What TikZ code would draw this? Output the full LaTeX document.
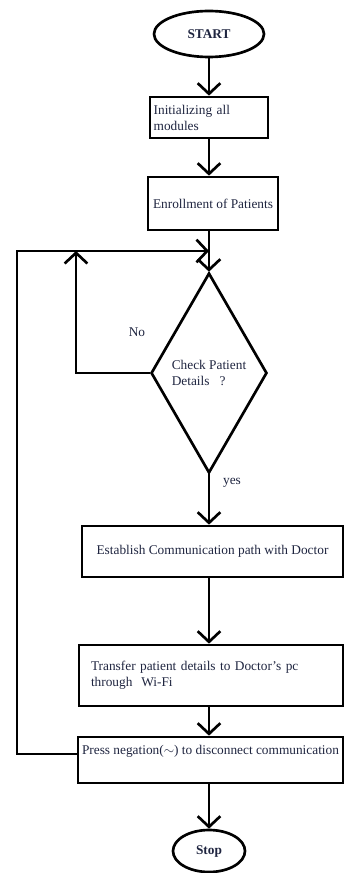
\documentclass[tikz,border=0pt]{standalone}
\usepackage{fontspec}
\setmainfont{Liberation Serif}
\usepackage{xcolor}
\usepackage{tikz}
\usetikzlibrary{calc,arrows.meta,shapes.geometric}
\definecolor{ink}{HTML}{000000}
\definecolor{txt}{HTML}{1F2540}
\tikzset{
  x=0.75pt, y=-0.75pt,
  box/.style={draw=ink, line width=2pt, rectangle, inner sep=2pt, text=txt, font=\fontsize{10}{12}\selectfont},
  term/.style={draw=ink, line width=2pt, ellipse, inner sep=0pt, text=txt, font=\fontsize{10}{12}\selectfont\bfseries},
  dec/.style={draw=ink, line width=2pt, diamond, inner sep=0pt, text=txt, font=\fontsize{10}{12}\selectfont},
  arr/.style={draw=ink, line width=2pt, -{Straight Barb[length=8pt,width=17pt,line width=2pt]}},
  lab/.style={text=txt, font=\fontsize{10}{12}\selectfont},
}
\begin{document}
\begin{tikzpicture}
  \useasboundingbox (0,0) rectangle (344,873);
  \node[term, minimum width=82.5pt, minimum height=34.5pt] (start) at (209,34) {START};
  \node[box, minimum width=88.5pt, minimum height=30.75pt, text width=83pt, align=left] (init) at (209,117.5) {Initializing all\\modules};
  \node[box, minimum width=97.5pt, minimum height=39.75pt] (enrol) at (213,203.5) {Enrollment of Patients};
  \node[dec, minimum width=87pt, minimum height=150pt, align=left] (check) at (209,373) {Check Patient\\Details\ \ \ ?};
  \node[box, minimum width=195.75pt, minimum height=38.25pt] (link) at (212.5,551.5) {Establish Communication path with Doctor};
  \node[box, minimum width=198pt, minimum height=45.75pt, text width=180pt, align=left] (send) at (211,675.5) {Transfer patient details to Doctor's pc\\through\ \ Wi-Fi};
  \node[box, minimum width=198.75pt, minimum height=34.5pt, inner xsep=1pt, align=left] (press) at (210.5,760) {Press negation(${\sim}$) to disconnect communication\\\strut};
  \node[term, minimum width=54pt, minimum height=31.5pt] (stop) at (209,851) {Stop};
  % loop points
  \coordinate (mrg) at (209,251);
  \coordinate (lp) at (17,251);
  \coordinate (nup) at (76,251);
  % main flow
  \draw[arr] (start.south) -- (start.south |- init.north);
  \draw[arr] (init.south) -- (init.south |- enrol.north);
  \draw[arr] (enrol.south -| check.north) -- (check.north);
  \draw[arr] (check.south) -- (check.south |- link.north);
  \draw[arr] (link.south -| check.south) -- (check.south |- send.north);
  \draw[arr] (send.south -| check.south) -- (check.south |- press.north);
  \draw[arr] (press.south -| stop.north) -- (stop.north);
  % back loops
  \draw[arr] (check.west) -| (nup);
  \draw[arr] ($(press.west)+(0,-6)$) -| (lp) -- (mrg);
  \node[lab] at (137,332) {No};
  \node[lab] at (232,483) {yes};
\end{tikzpicture}
\end{document}
